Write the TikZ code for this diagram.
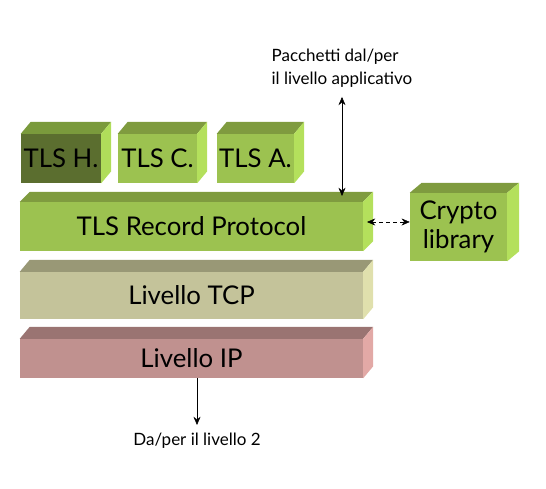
\documentclass[tikz,border=0pt]{standalone}
\usepackage{fontspec}
\setmainfont{Lato}
\usetikzlibrary{calc,arrows.meta}

\definecolor{hfront}{HTML}{5B6E2F}
\definecolor{htop}{HTML}{7A9A3C}
\definecolor{hside}{HTML}{B0DD5A}
\definecolor{gfront}{HTML}{9CC250}
\definecolor{gtop}{HTML}{7F9B3F}
\definecolor{gside}{HTML}{B4E05C}
\definecolor{tcpfront}{HTML}{C4C39A}
\definecolor{tcptop}{HTML}{999876}
\definecolor{tcpside}{HTML}{E0E0AD}
\definecolor{ipfront}{HTML}{C0918F}
\definecolor{iptop}{HTML}{9A7472}
\definecolor{ipside}{HTML}{E2A9A6}

\tikzset{
  layer/.style={inner sep=0pt, font=\fontsize{22}{25}\selectfont, align=center},
  note/.style={inner sep=0pt, font=\fontsize{14.5}{19.6}\selectfont, align=left},
  flow/.style={-{Stealth[length=7pt,width=6pt]}, thin}
}

% top and side faces of a layer: node, dx, dy, top colour, side colour
\newcommand{\boxfaces}[5]{%
  \fill[#4] (#1.north west) -- ++(#2,#3) -- ($(#1.north east)+(#2,#3)$) -- (#1.north east) -- cycle;
  \fill[#5] (#1.north east) -- ++(#2,#3) -- ($(#1.south east)+(#2,#3)$) -- (#1.south east) -- cycle;}

\begin{document}
\begin{tikzpicture}[x=0.03cm,y=0.03cm]
        \useasboundingbox (0,0) rectangle (546,489);

        \node[layer, fill=hfront, minimum width=2.4cm, minimum height=1.47cm] (hs) at (61,330.5) {TLS H.};
        \node[layer, fill=gfront, minimum width=2.37cm, minimum height=1.47cm] (cs) at (157.5,330.5) {TLS C.};
        \node[layer, fill=gfront, minimum width=2.31cm, minimum height=1.47cm] (al) at (255.5,330.5) {TLS A.};
        \node[layer, fill=gfront, minimum width=10.29cm, minimum height=1.47cm] (rec) at (191.5,262.5) {TLS Record Protocol};
        \node[layer, fill=tcpfront, minimum width=10.29cm, minimum height=1.41cm] (tcp) at (191.5,193.5) {Livello TCP};
        \node[layer, fill=ipfront, minimum width=10.29cm, minimum height=1.17cm] (ip) at (191.5,130.5) {Livello IP};
        \node[layer, fill=gfront, minimum width=2.91cm, minimum height=2.04cm] (cry) at (458.5,262) {Crypto\\library};

        \boxfaces{hs}{10}{12}{htop}{hside}
        \boxfaces{cs}{10}{12}{gtop}{gside}
        \boxfaces{al}{10}{12}{gtop}{gside}
        \boxfaces{rec}{10}{10}{gtop}{gside}
        \boxfaces{tcp}{10}{12}{tcptop}{tcpside}
        \boxfaces{ip}{10}{12}{iptop}{ipside}
        \boxfaces{cry}{12}{10}{gtop}{gside}

        \node[note] (app) at (342,421) {Pacchetti dal/per\\il livello applicativo};
        \node[note] (l2) at (197,48) {Da/per il livello 2};

        \coordinate (rectop) at (342,293);
        \coordinate (recside) at (367,267);
        \draw[flow, {Stealth[length=7pt,width=6pt]}-{Stealth[length=7pt,width=6pt]}] (app.south |- 0,392) -- (rectop);
        \draw[flow, dashed, {Stealth[length=7pt,width=6pt]}-{Stealth[length=7pt,width=6pt]}] (recside) -- (cry.west |- recside);
        \draw[flow] (l2.north |- ip.south) -- (l2.north |- 0,64);
\end{tikzpicture}
\end{document}
